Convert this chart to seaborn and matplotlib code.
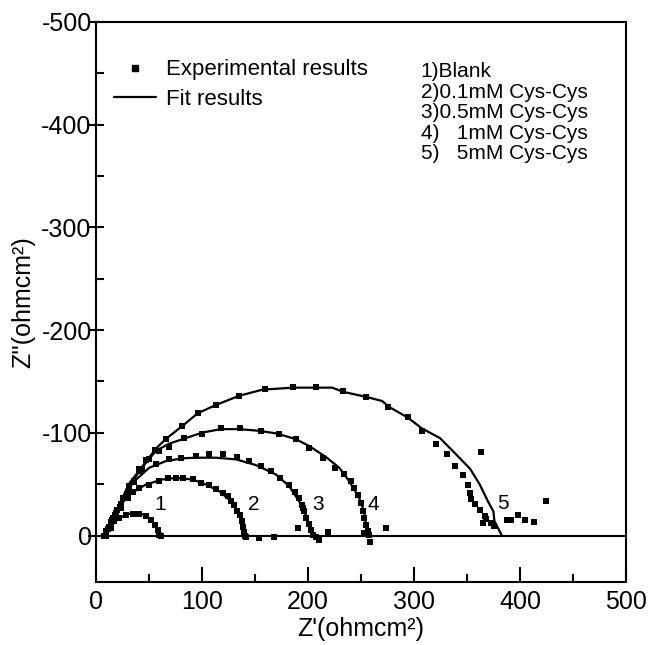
import numpy as np
import pandas as pd
import seaborn as sns
import matplotlib.pyplot as plt
from matplotlib.lines import Line2D
from matplotlib.ticker import MultipleLocator

# Fit curves (Z', Z'')
fit1_x = [8, 9.4, 15.7, 22, 29.9, 37.7, 45.6, 51.9, 56.6, 59.7, 60.4]
fit1_y = [0, 0, -10.5, -17, -20.9, -21.9, -20.3, -15.4, -8.8, -2.3, 0]

fit2_x = [9.4, 18.9, 31.4, 47.2, 62.9, 75.5, 91.2, 103.8, 116.4, 125.8, 133.6, 138.4, 140, 140.6]
fit2_y = [0, -23.5, -39.9, -49.7, -54.6, -56.2, -54.6, -49.7, -43.1, -35, -25.2, -13.7, -3.9, 0]

fit3_x = [9.4, 22, 34.6, 50.3, 66, 81.8, 94.3, 113.2, 132, 151, 169.8, 182.4, 191.8, 198, 201.3, 204.4, 206]
fit3_y = [0, -26.8, -51.3, -66, -72.5, -75.2, -75.8, -75.8, -74.2, -68.6, -59.5, -48, -33.3, -20.3, -10.5, -2.3, 0]

fit4_x = [9.4, 25.2, 40.9, 56.6, 69.2, 81.8, 100.6, 117.9, 135.2, 154, 171, 188.7, 201, 217, 229.6,
          239, 248.4, 253, 254.7, 255.3]
fit4_y = [0, -36.6, -62.7, -82.4, -89.5, -93.8, -100.3, -103.6, -103.6, -102, -99.3, -93.8, -87.3, -76.5, -66,
          -52.9, -36.6, -23.5, -10.5, 0]

fit5_x = [9, 31, 57, 66, 82, 96, 113, 135, 157, 186, 208, 223, 233, 255, 270, 277, 294, 308,
          324.5, 337, 353, 362, 370, 375, 376, 383]
fit5_y = [0, -50, -85, -94, -107, -119, -127, -136, -142, -144, -144, -144, -140, -135, -131, -125, -115, -104,
          -95, -82, -65, -50, -33, -23.5, -14, 0]

# Experimental points
exp1_x = [8, 10, 12.6, 17.3, 22, 28.3, 34.6, 40.9, 47.2, 51.9, 56, 58.2, 59.7, 61.3]
exp1_y = [0, -4, -7.2, -13.7, -17, -19.6, -20.9, -20.9, -18.6, -15.4, -10.5, -5.6, -0.7, 0]

exp2_x = [8, 11, 14, 18, 23, 30, 35, 40.9, 50.3, 59.7, 67.6, 75.5, 82.4, 91.2, 99, 106.9, 113.2, 119.5,
          124.2, 127.4, 130.5, 133.6, 135.8, 137.7, 139, 140, 140.9, 153.5, 168.2, 141.5]
exp2_y = [0, -6, -13, -20, -28, -37, -42, -46.4, -49.7, -52.9, -55.6, -55.6, -55.6, -54.6, -51.3, -49, -45.8,
          -41.5, -38.2, -33.3, -30, -24.2, -19.6, -14.4, -8.8, -3.9, 0, 2.6, 1, 1]

exp3_x = [8, 11, 15, 19, 24, 30, 36, 44, 56.6, 69.2, 80.2, 94.3, 106.3, 119.5, 132.7, 144.7, 155.7, 165,
          174, 181.8, 188, 191.8, 194.3, 196.5, 198, 200.6, 202.8, 205, 207.5, 210.7, 190.3, 218.6, 195]
exp3_y = [0, -6, -15, -22, -31, -42, -52, -64.4, -69.3, -74.2, -75.8, -77.5, -79.7, -79.1, -76.5, -72.5,
          -67.6, -62.7, -55.6, -49.7, -42.5, -36.6, -30, -23.5, -17, -11.1, -5.6, -0.7, 1, 4.2, -7.2, -3.9, -26.8]

exp4_x = [8, 12, 16, 20, 25.2, 31.4, 40.9, 50.3, 59.7, 69.2, 83.3, 100.6, 118, 135.8, 155.7, 172.3, 188.7,
          201, 214, 225.8, 234, 240.6, 243.7, 246.9, 250, 251.6, 253, 254.7, 256.3, 257.9, 273.6, 258.5, 253]
exp4_y = [0, -8, -17, -25, -36.6, -48, -62.7, -74.2, -82.4, -86.3, -95.4, -99.3, -104.6, -104.6, -102, -99.3,
          -93.8, -85, -75.2, -66, -59.5, -52.9, -46.4, -39.9, -31.7, -23.5, -17, -10.5, -4.6, -0.7, -7.2, 6.5, -2.3]

exp5_x = [9.4, 14.2, 18.9, 23.6, 28.3, 31.4, 36.2, 40.9, 47.2, 56, 66, 81, 96, 113, 135, 160, 186, 208,
          233, 255, 276, 294, 308, 321, 331, 339, 346, 351, 353, 354, 358, 362, 367, 368, 365, 373, 376,
          388, 392, 398, 405, 413, 425, 363]
exp5_y = [0, -7.2, -17, -26.8, -36.6, -44.8, -52.9, -64.4, -73.2, -83, -93.8, -106.9, -119, -127, -136, -143,
          -144.4, -144.4, -140.5, -135, -125, -115, -102, -89, -79, -68, -59, -49, -41, -36, -31, -25, -19, -16,
          -12, -12, -9, -15, -15, -20, -15, -13, -34, -81]

curve_labels = ["1", "2", "3", "4", "5"]
label_x = [61, 149, 210, 262, 384]
label_y = [-30, -30, -30, -30, -31]

legend_conc = "1)Blank\n2)0.1mM Cys-Cys\n3)0.5mM Cys-Cys\n4)   1mM Cys-Cys\n5)   5mM Cys-Cys"

fits = [(fit1_x, fit1_y), (fit2_x, fit2_y), (fit3_x, fit3_y), (fit4_x, fit4_y), (fit5_x, fit5_y)]
exps = [(exp1_x, exp1_y), (exp2_x, exp2_y), (exp3_x, exp3_y), (exp4_x, exp4_y), (exp5_x, exp5_y)]

fit_df = pd.concat([pd.DataFrame({"x": fx, "y": fy, "curve": curve_labels[i]})
                    for i, (fx, fy) in enumerate(fits)], ignore_index=True)
exp_df = pd.concat([pd.DataFrame({"x": ex, "y": ey, "curve": curve_labels[i]})
                    for i, (ex, ey) in enumerate(exps)], ignore_index=True)

sns.set_style("ticks")
plt.rcParams['font.family'] = ['Liberation Sans', 'DejaVu Sans']
plt.rcParams.update({"text.color": "black", "axes.labelcolor": "black",
                     "xtick.color": "black", "ytick.color": "black", "axes.edgecolor": "black"})

fig = plt.figure(figsize=(6.52, 6.45), dpi=100)
ax = fig.add_axes([0.147, 0.098, 0.813, 0.868])

for c in curve_labels:
    sns.lineplot(data=fit_df[fit_df.curve == c], x="x", y="y", sort=False, estimator=None,
                 color="black", linewidth=1.6, ax=ax)
sns.scatterplot(data=exp_df, x="x", y="y", marker="s", s=20, color="black", linewidth=0, ax=ax)

ax.axhline(0, color="black", linewidth=1.5)

for lab, lx, ly in zip(curve_labels, label_x, label_y):
    ax.text(lx, ly, lab, fontsize=15, ha="center", va="center")

ax.set_xlim(0, 500)
ax.set_ylim(45, -500)
ax.xaxis.set_major_locator(MultipleLocator(100))
ax.xaxis.set_minor_locator(MultipleLocator(50))
ax.yaxis.set_major_locator(MultipleLocator(100))
ax.yaxis.set_minor_locator(MultipleLocator(50))
ax.set_yticks([0, -100, -200, -300, -400, -500])
ax.set_yticklabels(["0", "-100", "-200", "-300", "-400", "-500"])

ax.tick_params(axis="x", which="major", direction="in", length=11, width=1.5, labelsize=18, pad=6)
ax.tick_params(axis="x", which="minor", direction="in", length=6, width=1.5)
ax.tick_params(axis="y", which="major", direction="inout", length=11, width=1.5, labelsize=18, pad=-2.5)
ax.tick_params(axis="y", which="minor", direction="in", length=6, width=1.5)
for sp in ax.spines.values():
    sp.set_linewidth(1.5)
    sp.set_visible(True)

ax.set_xlabel("Z'(ohmcm²)", fontsize=18, labelpad=2)
ax.set_ylabel("Z''(ohmcm²)", fontsize=18, labelpad=4)

handles = [Line2D([], [], marker="s", markersize=4, color="black", linestyle="none"),
           Line2D([], [], color="black", linewidth=1.6)]
ax.legend(handles, ["Experimental results", "Fit results"], loc="upper left",
          bbox_to_anchor=(0.0, 0.965), frameon=False, fontsize=16, handlelength=1.9,
          handletextpad=0.45, labelspacing=0.4, borderaxespad=0.4)

ax.text(0.613, 0.928, legend_conc, transform=ax.transAxes, fontsize=15, ha="left", va="top",
        linespacing=1.1)

fig.savefig("out.png", dpi=100)
